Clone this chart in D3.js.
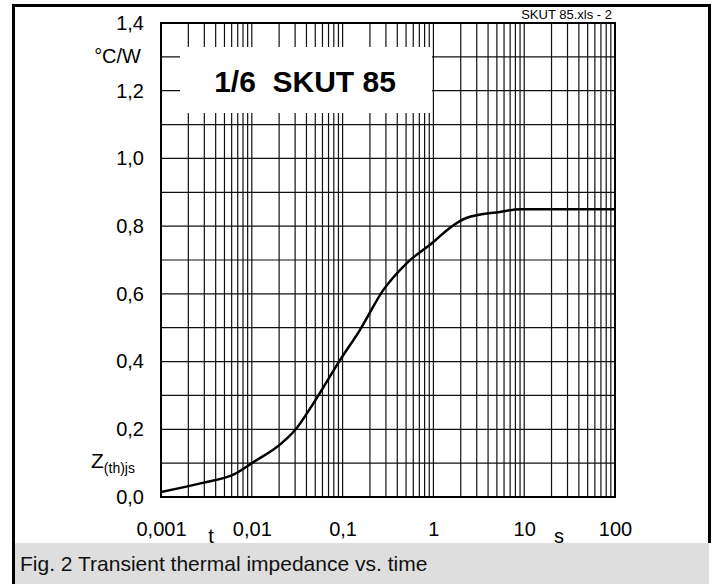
<!DOCTYPE html>
<html>
<head>
<meta charset="utf-8">
<script src="https://cdn.jsdelivr.net/npm/d3@7"></script>
<style>
	body { margin: 0; background: #fff; }
	svg { display: block; font-family: "Liberation Sans", Arial, sans-serif; }
</style>
</head>
<body>
<script>
// curve: time in s, Zth in C/W
var times  = [0.001, 0.0028, 0.0065, 0.01, 0.0215, 0.03, 0.046, 0.094, 0.155, 0.28, 0.51, 1, 1.5, 2.3, 5.4, 9, 100];
var zthVals = [0.015, 0.041, 0.068, 0.1, 0.16, 0.198, 0.27, 0.405, 0.493, 0.611, 0.691, 0.753, 0.794, 0.824, 0.842, 0.85, 0.85];

var xTicks = [0.001, 0.01, 0.1, 1, 10, 100];
var xTickLabels = ["0,001", "0,01", "0,1", "1", "10", "100"];
var yTicks = [0, 0.2, 0.4, 0.6, 0.8, 1.0, 1.2, 1.4];
var yTickLabels = ["0,0", "0,2", "0,4", "0,6", "0,8", "1,0", "1,2", "1,4"];

function makeGraph() {
	var w = 716, h = 584;
	var left = 161, right = 615, top = 23, bottom = 497;

	var svg = d3.select("body").append("svg")
		.attr("width", w)
		.attr("height", h);

	var xScale = d3.scaleLog().domain([0.001, 100]).range([left, right]);
	var yScale = d3.scaleLinear().domain([0, 1.4]).range([bottom, top]);

	//caption band
	svg.append("rect")
		.attr("x", 14).attr("y", 543)
		.attr("width", 695).attr("height", 41)
		.attr("fill", "#dedede");
	svg.append("text")
		.attr("x", 20).attr("y", 571)
		.attr("font-size", 21)
		.attr("fill", "#111")
		.text("Fig. 2 Transient thermal impedance vs. time");

	//outer frame
	svg.append("path")
		.attr("d", "M13.5,584 V5.5 H709.5 V543")
		.attr("fill", "none")
		.attr("stroke", "#000")
		.attr("stroke-width", 3);

	//grid lines
	var xGrid = [];
	for (var dec = -3; dec < 2; dec++) {
		for (var k = 1; k <= 9; k++) xGrid.push(k * Math.pow(10, dec));
	}
	xGrid.push(100);
	var yGrid = d3.range(0, 15).map(function(i) { return i / 10; });

	var grid = svg.append("g").attr("stroke", "#111").attr("stroke-width", 1.2);
	grid.selectAll("line.v").data(xGrid).enter().append("line")
		.attr("class", "v")
		.attr("x1", function(d) { return xScale(d); })
		.attr("x2", function(d) { return xScale(d); })
		.attr("y1", top).attr("y2", bottom);
	grid.selectAll("line.h").data(yGrid).enter().append("line")
		.attr("class", "h")
		.attr("x1", left).attr("x2", right)
		.attr("y1", function(d) { return yScale(d); })
		.attr("y2", function(d) { return yScale(d); });

	//title box covers the grid
	svg.append("rect")
		.attr("x", 180).attr("y", 47)
		.attr("width", 252).attr("height", 66)
		.attr("fill", "#fff");
	svg.append("text")
		.attr("x", 305).attr("y", 92)
		.attr("text-anchor", "middle")
		.attr("font-size", 30)
		.attr("font-weight", "bold")
		.style("white-space", "pre")
		.text("1/6  SKUT 85");

	//plot border
	svg.append("rect")
		.attr("x", left).attr("y", top)
		.attr("width", right - left).attr("height", bottom - top)
		.attr("fill", "none")
		.attr("stroke", "#000")
		.attr("stroke-width", 2);

	//curve
	var pts = times.map(function(t, i) { return [t, zthVals[i]]; });
	var line = d3.line()
		.x(function(d) { return xScale(d[0]); })
		.y(function(d) { return yScale(d[1]); })
		.curve(d3.curveMonotoneX);
	svg.append("path")
		.datum(pts)
		.attr("d", line)
		.attr("fill", "none")
		.attr("stroke", "#000")
		.attr("stroke-width", 2.5);

	//axes
	var xAxis = d3.axisBottom(xScale)
		.tickValues(xTicks)
		.tickSize(0)
		.tickPadding(25)
		.tickFormat(function(d, i) { return xTickLabels[i]; });
	var gx = svg.append("g")
		.attr("transform", "translate(0," + bottom + ")")
		.call(xAxis);
	gx.select(".domain").remove();
	gx.selectAll("text").attr("font-size", 20).attr("fill", "#000");
	gx.attr("font-family", null);

	var yAxis = d3.axisLeft(yScale)
		.tickValues(yTicks)
		.tickSize(0)
		.tickPadding(17)
		.tickFormat(function(d, i) { return yTickLabels[i]; });
	var gy = svg.append("g")
		.attr("transform", "translate(" + left + ",0)")
		.call(yAxis);
	gy.select(".domain").remove();
	gy.selectAll("text").attr("font-size", 20).attr("fill", "#000");
	gy.attr("font-family", null);

	//unit labels
	svg.append("text")
		.attr("x", 141).attr("y", 63)
		.attr("text-anchor", "end")
		.attr("font-size", 20)
		.text("\u00B0C/W");
	var z = svg.append("text")
		.attr("x", 91).attr("y", 468)
		.attr("font-size", 21);
	z.append("tspan").text("Z");
	z.append("tspan").attr("font-size", 14).attr("dy", 5).text("(th)js");

	svg.append("text")
		.attr("x", 211).attr("y", 543)
		.attr("text-anchor", "middle")
		.attr("font-size", 20)
		.text("t");
	svg.append("text")
		.attr("x", 559).attr("y", 543)
		.attr("text-anchor", "middle")
		.attr("font-size", 20)
		.text("s");

	svg.append("text")
		.attr("x", 612).attr("y", 19)
		.attr("text-anchor", "end")
		.attr("font-size", 13)
		.text("SKUT 85.xls - 2");
}

makeGraph();
</script>
</body>
</html>
